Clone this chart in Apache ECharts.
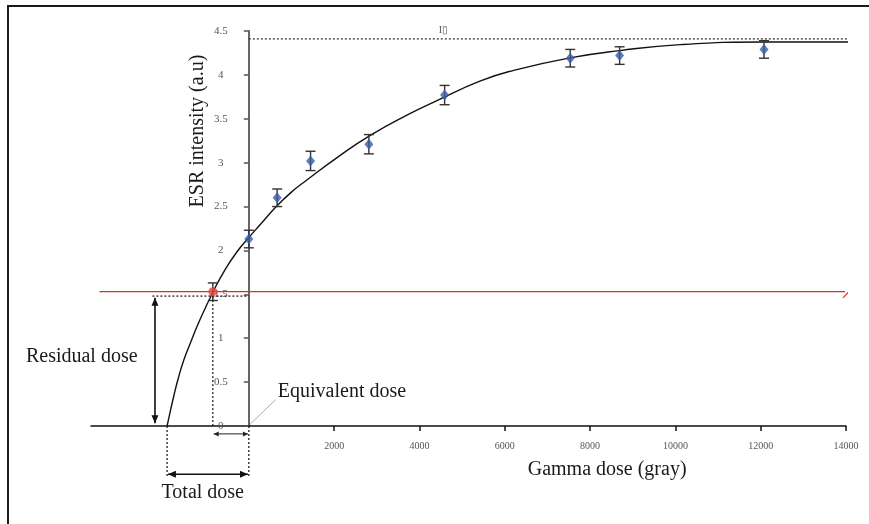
<!DOCTYPE html>
<html><head><meta charset="utf-8">
<script src="https://cdn.jsdelivr.net/npm/echarts@6/dist/echarts.min.js"></script>
<style>html,body{margin:0;padding:0;background:#fff}#c{width:869px;height:524px}</style>
</head><body><div id="c"></div>
<script>
// ---- data ----
const doses = [0, 664, 1447, 2814, 4590, 7535, 8693, 12078];
const intensities = [2.13, 2.60, 3.02, 3.21, 3.77, 4.19, 4.22, 4.29];
const errors = [0.10, 0.10, 0.11, 0.11, 0.11, 0.10, 0.10, 0.10];
const naturalPoint = [-844, 1.53];
const naturalError = 0.10;
// fitted saturation curve
const curveDose = [-1916, -1853, -1759, -1665, -1524, -1360, -1149, -837, -563, -281, 0, 258, 633, 985, 1360, 2134, 2838, 3705, 4409, 5417, 6191, 7528, 8701, 10108, 12078, 14376];
const curveInt  = [0, 0.142, 0.342, 0.524, 0.752, 0.957, 1.207, 1.530, 1.777, 1.982, 2.147, 2.289, 2.494, 2.659, 2.802, 3.081, 3.309, 3.542, 3.707, 3.929, 4.049, 4.194, 4.277, 4.345, 4.374, 4.374];
const saturationLevel = 4.41;
const saturationRange = [0, 14370];
const naturalLevel = 1.53;
const naturalLineRange = [-3500, 13980];
const naturalLineEndMark = [[13930, 1.46], [14130, 1.56]];
const xTickValues = [2000, 4000, 6000, 8000, 10000, 12000, 14000];
const yTickLabels = ['0', '0.5', '1', '1.5', '2', '2.5', '3', '3.5', '4', '4.5'];
// annotation anchors (data units)
const zeroCrossDose = -1916;
const residualArrowDose = -2200;
const guideLevel = 1.48;
const totalArrowLevel = -0.55;
const guideBottomLevel = -0.57;
const equivArrowLevel = -0.09;
const labels = {
  saturation: 'I\u25AF',
  residual: 'Residual dose',
  total: 'Total dose',
  equivalent: 'Equivalent dose',
  xName: 'Gamma dose (gray)',
  yName: 'ESR intensity (a.u)'
};

const FONT = '"Liberation Serif", "Times New Roman", serif';
const GRID_LEFT = 91;
const chart = echarts.init(document.getElementById('c'));

function arrowHead(p1, p2, L, hw, color) {
  const dx = p2[0]-p1[0], dy = p2[1]-p1[1];
  const len = Math.sqrt(dx*dx+dy*dy) || 1;
  const ux = dx/len, uy = dy/len, nx = -uy, ny = ux;
  const bx = p2[0]-ux*L, by = p2[1]-uy*L;
  return {type:'polygon', shape:{points:[[p2[0],p2[1]],[bx+nx*hw,by+ny*hw],[bx-nx*hw,by-ny*hw]]}, style:{fill:color}};
}
function dblArrow(a, b, color) {
  return [
    {type:'line', shape:{x1:a[0],y1:a[1],x2:b[0],y2:b[1]}, style:{stroke:color,lineWidth:1.6}},
    arrowHead(b, a, 8, 3.5, color),
    arrowHead(a, b, 8, 3.5, color)
  ];
}
function dotted(a, b) {
  return {type:'line', shape:{x1:a[0],y1:a[1],x2:b[0],y2:b[1]}, style:{stroke:'#222',lineWidth:1.3,lineDash:[2,2]}};
}
function txt(p, text, size, align, rot, color) {
  return {type:'text', x:p[0], y:p[1], rotation: rot||0,
    style:{text:text, x:0, y:0, font: size+'px '+FONT, fill: color||'#1a1a1a', align: align||'center', verticalAlign:'middle'}};
}

const option = {
  animation: false,
  backgroundColor: '#fff',
  grid: {left: GRID_LEFT, right: 23, top: 31, bottom: 98, outerBoundsMode: 'none'},
  xAxis: {
    type: 'value', min: -3700, max: 14000,
    axisLine: {onZero: true, lineStyle: {color: '#111', width: 1.5}},
    axisTick: {show: true, customValues: xTickValues, length: 5, lineStyle: {color: '#111', width: 1.5}},
    axisLabel: {customValues: xTickValues, margin: 15, fontSize: 10, fontFamily: FONT, color: '#555',
      formatter: (v) => String(v)},
    splitLine: {show: false}
  },
  yAxis: {
    type: 'value', min: 0, max: 4.5, interval: 0.5, offset: 0,
    axisLine: {show: true, onZero: false, lineStyle: {color: '#666', width: 2}},
    axisTick: {show: true, length: 5, lineStyle: {color: '#555', width: 1.5}},
    axisLabel: {margin: 28, align: 'center', fontSize: 11, fontFamily: FONT, color: '#555',
      formatter: (v) => yTickLabels[Math.round(v*2)]},
    splitLine: {show: false}
  },
  series: [
    { // saturation dotted line
      type: 'line', clip: false, silent: true, symbol: 'none', z: 1,
      data: saturationRange.map(d => [d, saturationLevel]),
      lineStyle: {color: '#333', width: 1.3, type: [2, 2]}
    },
    { // natural intensity red line
      type: 'line', clip: false, silent: true, symbol: 'none', z: 1,
      data: naturalLineRange.map(d => [d, naturalLevel]),
      lineStyle: {color: '#F02525', width: 1.2}
    },
    { // small end mark of red line
      type: 'line', clip: false, silent: true, symbol: 'none', z: 1,
      data: naturalLineEndMark,
      lineStyle: {color: '#F02525', width: 1.2}
    },
    { // fitted curve
      type: 'line', clip: false, silent: true, symbol: 'none', smooth: 0.5, z: 2,
      data: curveDose.map((d, i) => [d, curveInt[i]]),
      lineStyle: {color: '#111', width: 1.4}
    },
    { // error bars
      type: 'custom', clip: false, z: 3,
      data: doses.map((d, i) => [d, intensities[i], errors[i]]).concat([[naturalPoint[0], naturalPoint[1], naturalError]]),
      encode: {x: 0, y: 1},
      renderItem: function (params, api) {
        const x = api.value(0), y = api.value(1), e = api.value(2);
        const t = api.coord([x, y+e]), b = api.coord([x, y-e]);
        const w = 5, st = {stroke: '#333', lineWidth: 1.4};
        return {type: 'group', children: [
          {type: 'line', shape: {x1: t[0], y1: t[1], x2: b[0], y2: b[1]}, style: st},
          {type: 'line', shape: {x1: t[0]-w, y1: t[1], x2: t[0]+w, y2: t[1]}, style: st},
          {type: 'line', shape: {x1: b[0]-w, y1: b[1], x2: b[0]+w, y2: b[1]}, style: st}
        ]};
      }
    },
    { // measured points
      type: 'scatter', z: 5, symbol: 'diamond', symbolSize: [9, 11],
      data: doses.map((d, i) => [d, intensities[i]]),
      itemStyle: {color: '#3A5CA6'}
    },
    { // natural point
      type: 'scatter', z: 5, symbol: 'circle', symbolSize: 9,
      data: [naturalPoint],
      itemStyle: {color: '#E8463E'}
    },
    { // annotations
      type: 'custom', clip: false, z: 4, silent: true,
      data: [[0, 0]],
      encode: {x: 0, y: 1},
      renderItem: function (params, api) {
        const c = (d, v) => api.coord([d, v]);
        const ch = [];
        ch.push(dotted(c(residualArrowDose - 60, guideLevel), c(0, guideLevel)));
        ch.push(dotted(c(naturalPoint[0], guideLevel), c(naturalPoint[0], 0)));
        ch.push(...dblArrow(c(residualArrowDose, guideLevel - 0.02), c(residualArrowDose, 0.03), '#111'));
        ch.push(dotted(c(zeroCrossDose, 0), c(zeroCrossDose, guideBottomLevel)));
        ch.push(dotted(c(0, 0), c(0, guideBottomLevel)));
        ch.push(...dblArrow(c(zeroCrossDose + 20, totalArrowLevel), c(-20, totalArrowLevel), '#111'));
        const e1 = c(naturalPoint[0] + 20, equivArrowLevel), e2 = c(-20, equivArrowLevel);
        ch.push({type:'line', shape:{x1:e1[0],y1:e1[1],x2:e2[0],y2:e2[1]}, style:{stroke:'#222',lineWidth:1}});
        ch.push(arrowHead(e2, e1, 5, 2.5, '#222'));
        ch.push(arrowHead(e1, e2, 5, 2.5, '#222'));
        const l1 = c(30, 0.02), l2 = c(630, 0.30);
        ch.push({type:'line', shape:{x1:l1[0],y1:l1[1],x2:l2[0],y2:l2[1]}, style:{stroke:'#999',lineWidth:0.8}});
        ch.push(txt(c(4560, 4.51), labels.saturation, 10, 'center', 0, '#555'));
        ch.push(txt(c(-3917, 0.79), labels.residual, 20, 'center'));
        ch.push(txt(c(-1080, -0.76), labels.total, 20, 'center'));
        ch.push(txt(c(680, 0.39), labels.equivalent, 20, 'left'));
        ch.push(txt(c(8400, -0.50), labels.xName, 20, 'center'));
        ch.push(txt(c(-1200, 3.36), labels.yName, 20, 'center', Math.PI/2));
        return {type: 'group', children: ch};
      }
    }
  ],
  graphic: [
    {type: 'polyline', shape: {points: [[8, 524], [8, 6], [869, 6]]}, style: {stroke: '#1a1a1a', lineWidth: 2, fill: null}}
  ]
};
chart.setOption(option);
// place the y axis on dose = 0 (axis line, ticks and labels together)
const zeroPx = chart.convertToPixel({xAxisIndex: 0}, 0);
chart.setOption({yAxis: {offset: GRID_LEFT - zeroPx}});
</script>
</body></html>
